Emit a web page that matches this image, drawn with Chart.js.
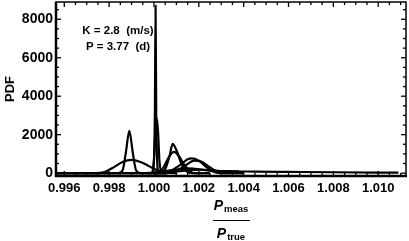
<!DOCTYPE html>
<html>
<head>
<meta charset="utf-8">
<script src="https://cdn.jsdelivr.net/npm/chart.js@4"></script>
<style>
html,body{margin:0;padding:0;background:#fff;}
#wrap{width:409px;height:241px;position:relative;}
</style>
</head>
<body>
<div id="wrap"><canvas id="c" width="409" height="241"></canvas></div>
<script>
// ---- data ----
const xTicks = [0.996, 0.998, 1.000, 1.002, 1.004, 1.006, 1.008, 1.010];
const yTicks = [0, 2000, 4000, 6000, 8000];
const xRange = [0.99563, 1.01124];
const yRange = [-150, 8900];

const ratioA = [0.99563, 0.9984, 0.9986, 0.99875, 0.99890, 0.99905, 0.9992, 0.9994, 1.0000];
const pdfA   = [0, 0, 150, 1100, 2200, 1100, 150, 0, 0];

const ratioB = [0.99563, 0.9974, 0.9978, 0.9982, 0.9986, 0.9990, 0.9994, 0.9998, 1.0002, 1.0006, 1.0010];
const pdfB   = [0, 0, 60, 300, 580, 690, 580, 350, 120, 20, 0];

const ratioC = [0.9996, 0.99993, 1.00000, 1.00004, 1.00007, 1.00010, 1.00014, 1.00021, 1.0005];
const pdfC   = [0, 0, 700, 3200, 8700, 3200, 700, 0, 0];

const ratioD = [0.9996, 0.99990, 1.00000, 1.00006, 1.00012, 1.00018, 1.00024, 1.00034, 1.0006];
const pdfD   = [0, 0, 700, 2200, 2850, 2200, 700, 0, 0];

const ratioE = [1.0000, 1.0003, 1.0005, 1.0007, 1.00083, 1.0010, 1.0012, 1.0014, 1.0017, 1.0025];
const pdfE   = [0, 0, 200, 900, 1520, 1200, 550, 150, 0, 0];

const ratioF = [1.0000, 1.0002, 1.0004, 1.0007, 1.0009, 1.0011, 1.0014, 1.0018, 1.0025];
const pdfF   = [0, 0, 250, 900, 1100, 900, 350, 0, 0];

const ratioG = [1.0000, 1.0004, 1.0008, 1.0012, 1.0015, 1.00168, 1.0020, 1.0023, 1.0026, 1.0030, 1.0040];
const pdfG   = [0, 0, 150, 450, 720, 770, 650, 350, 100, 0, 0];

const ratioH = [1.0000, 1.0006, 1.0010, 1.0014, 1.0018, 1.0021, 1.0024, 1.0027, 1.0031, 1.0040];
const pdfH   = [0, 0, 120, 400, 650, 600, 380, 150, 0, 0];

const ratioI = [0.99563, 0.9995, 1.0005, 1.0015, 1.0025, 1.0032, 1.0038];
const pdfI   = [0, 0, 100, 250, 130, 100, 90];

const ratioJ = [0.99563, 1.0000, 1.0010, 1.0020, 1.0030, 1.0045, 1.0060, 1.0080, 1.0100, 1.0109];
const pdfJ   = [0, 0, 80, 180, 110, 80, 65, 45, 30, 25];

const annotLines = ["K = 2.8  (m/s)", "P = 3.77  (d)"];
const yTitle = "PDF";

// ---- chart ----
const series = [[ratioA,pdfA],[ratioB,pdfB],[ratioC,pdfC],[ratioD,pdfD],[ratioE,pdfE],
                [ratioF,pdfF],[ratioG,pdfG],[ratioH,pdfH],[ratioI,pdfI],[ratioJ,pdfJ]];
const datasets = series.map(([xs,ys]) => ({
  data: xs.map((x,i)=>({x:x, y:ys[i]})),
  borderColor:'#000', borderWidth:2.2, pointRadius:0, fill:false,
  cubicInterpolationMode:'monotone', tension:0.4
}));

const FONT = '"Liberation Sans", Arial, Helvetica, sans-serif';

const decor = {
  id:'decor',
  afterDraw(chart){
    const ctx = chart.ctx, a = chart.chartArea;
    const xs = chart.scales.x, ys = chart.scales.y;
    ctx.save();
    ctx.strokeStyle = '#000';
    // minor & major ticks inward on all sides
    ctx.lineWidth = 1.3;
    for (let v = 0.996; v <= xRange[1]; v += 0.0005) {
      const p = xs.getPixelForValue(v);
      if (p < a.left+1 || p > a.right-1) continue;
      const major = Math.abs(Math.round(v/0.002)*0.002 - v) < 1e-7;
      const L = major ? 5 : 3;
      ctx.beginPath(); ctx.moveTo(p, a.bottom); ctx.lineTo(p, a.bottom-L); ctx.stroke();
      ctx.beginPath(); ctx.moveTo(p, a.top); ctx.lineTo(p, a.top+L); ctx.stroke();
    }
    for (let v = 0; v <= yRange[1]; v += 500) {
      const p = ys.getPixelForValue(v);
      if (p < a.top+1 || p > a.bottom-1) continue;
      const major = v % 2000 === 0;
      const L = major ? 5 : 3;
      ctx.beginPath(); ctx.moveTo(a.left, p); ctx.lineTo(a.left+L, p); ctx.stroke();
      ctx.beginPath(); ctx.moveTo(a.right, p); ctx.lineTo(a.right-L, p); ctx.stroke();
    }
    // frame
    ctx.lineWidth = 1.5;
    ctx.strokeRect(a.left, a.top, a.right-a.left, a.bottom-a.top);
    ctx.lineWidth = 2.5;
    ctx.beginPath(); ctx.moveTo(a.left-1, a.bottom); ctx.lineTo(a.right+1, a.bottom); ctx.stroke();
    ctx.beginPath(); ctx.moveTo(a.left, a.top); ctx.lineTo(a.left, a.bottom+1); ctx.stroke();

    // annotation
    ctx.fillStyle = '#000';
    ctx.font = 'bold 11.5px ' + FONT;
    ctx.textAlign = 'center'; ctx.textBaseline = 'middle';
    ctx.fillText(annotLines[0], 118, 31);
    ctx.fillText(annotLines[1], 118, 47);

    // y title
    ctx.save();
    ctx.translate(10, 89); ctx.rotate(-Math.PI/2);
    ctx.font = 'bold 13px ' + FONT;
    ctx.fillText(yTitle, 0, 0);
    ctx.restore();

    // x title: fraction P_meas / P_true
    const cx = 231;
    ctx.textBaseline = 'alphabetic';
    ctx.textAlign = 'left';
    function frac(sub, base){
      ctx.font = 'italic bold 14px ' + FONT;
      const wP = ctx.measureText('P').width;
      ctx.font = 'bold 9.5px ' + FONT;
      const wS = ctx.measureText(sub).width;
      const w = wP + 1 + wS;
      const x0 = cx - w/2;
      ctx.font = 'italic bold 14px ' + FONT;
      ctx.fillText('P', x0, base);
      ctx.font = 'bold 9.5px ' + FONT;
      ctx.fillText(sub, x0 + wP + 1, base + 2);
    }
    frac('meas', 210);
    frac('true', 238);
    ctx.lineWidth = 1;
    ctx.beginPath(); ctx.moveTo(213, 220.5); ctx.lineTo(250, 220.5); ctx.stroke();
    ctx.restore();
  }
};

new Chart(document.getElementById('c'), {
  type:'line',
  data:{datasets},
  options:{
    responsive:false, animation:false, events:[],
    layout:{padding:{left:0, top:2, right:3, bottom:0}},
    plugins:{legend:{display:false}, tooltip:{enabled:false}},
    scales:{
      x:{
        type:'linear', min:xRange[0], max:xRange[1],
        afterBuildTicks(s){ s.ticks = xTicks.map(v=>({value:v})); },
        afterFit(s){ s.height = 65; s.paddingLeft = 0; s.paddingRight = 0; },
        grid:{display:false, drawTicks:false},
        border:{display:false},
        ticks:{color:'#000', padding:5, maxRotation:0, autoSkip:false,
               font:{family:FONT, size:13, weight:'bold'},
               callback:(v)=>Number(v).toFixed(3)}
      },
      y:{
        type:'linear', min:yRange[0], max:yRange[1],
        afterBuildTicks(s){ s.ticks = yTicks.map(v=>({value:v})); },
        afterFit(s){ s.width = 56; s.paddingTop = 0; s.paddingBottom = 0; },
        grid:{display:false, drawTicks:false},
        border:{display:false},
        ticks:{color:'#000', padding:3, autoSkip:false,
               font:{family:FONT, size:14, weight:'bold'},
               callback:(v)=>String(v)}
      }
    }
  },
  plugins:[decor]
});
</script>
</body>
</html>
